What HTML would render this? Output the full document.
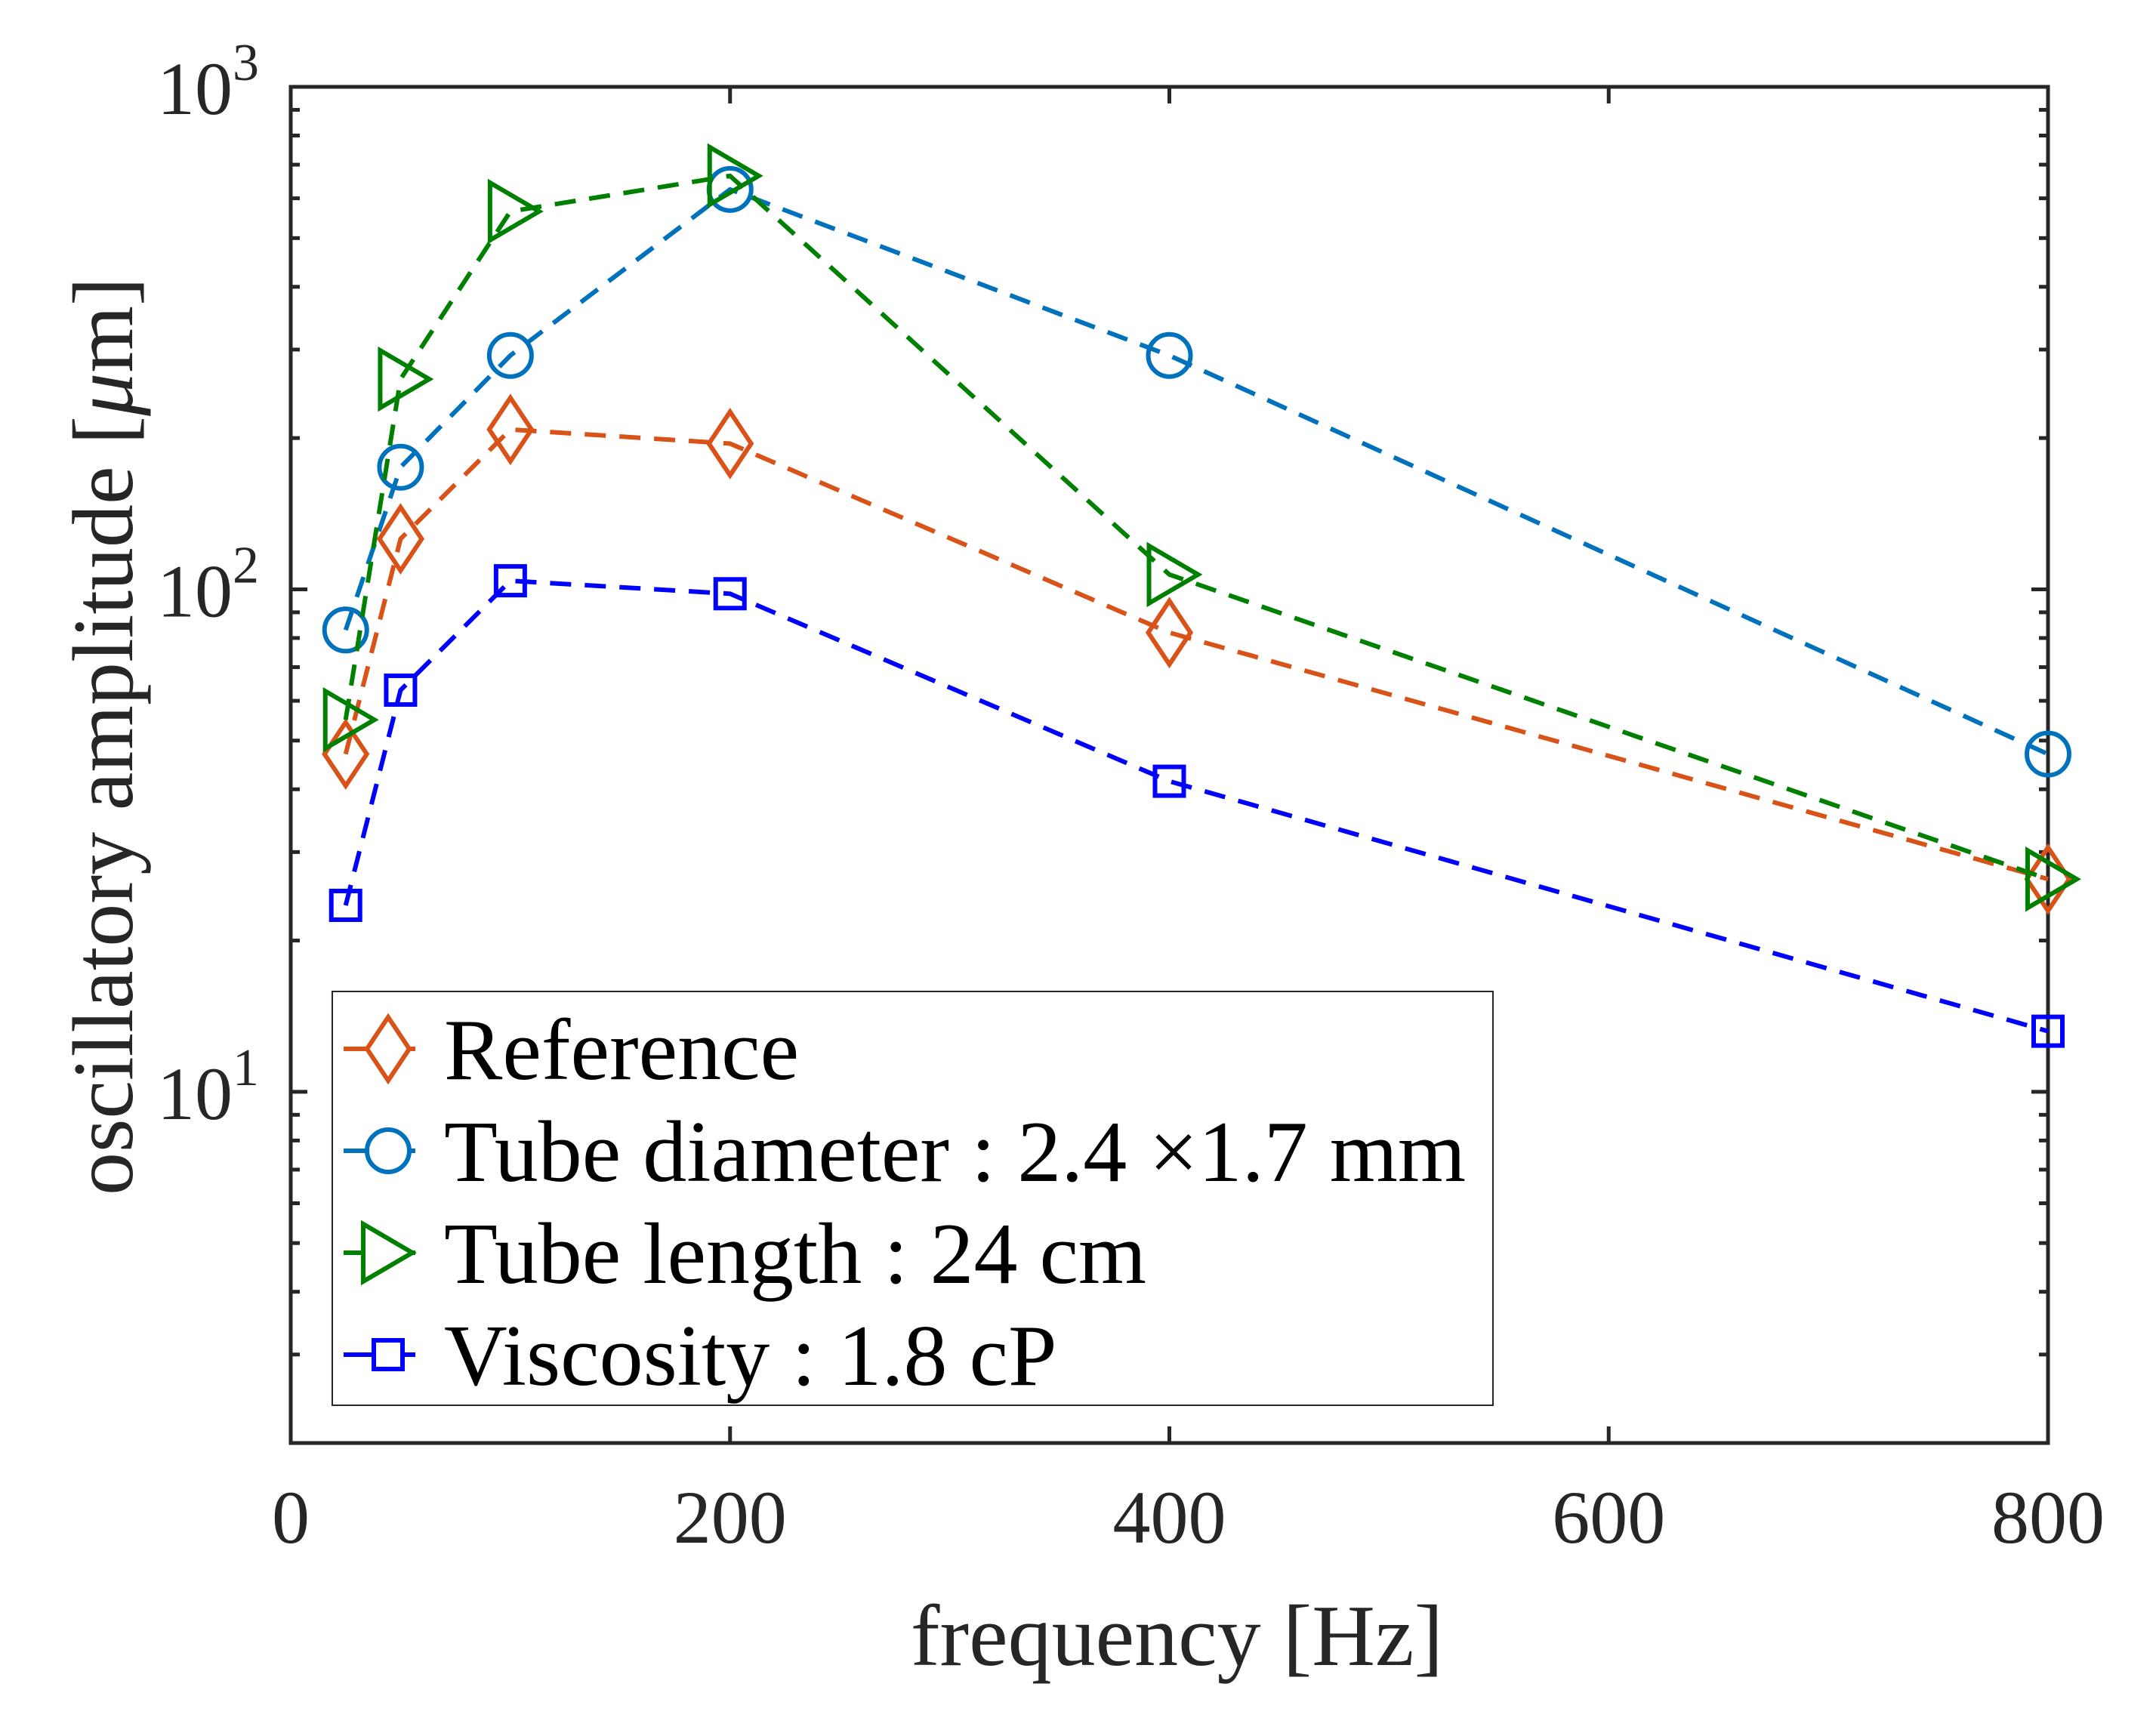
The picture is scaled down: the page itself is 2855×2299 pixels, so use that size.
<!DOCTYPE html>
<html><head><meta charset="utf-8"><style>
html,body{margin:0;padding:0;background:#fff;}
svg{display:block;font-family:"Liberation Serif",serif;}
</style></head><body>
<svg id="chart" width="2855" height="2299" viewBox="0 0 2855 2299" xmlns="http://www.w3.org/2000/svg">
<rect width="2855" height="2299" fill="#fff"/>
<g id="plot"></g>
</svg>
<script>
const xValues = [25, 50, 100, 200, 400, 800];
const refValues = [47, 126, 208, 195, 82, 26.5];
const diamValues = [83, 175, 292, 625, 292, 47];
const lengthValues = [55, 262, 565, 665, 107, 26.5];
const viscValues = [23.5, 63, 104, 98, 41.5, 13.2];
const xTicks = [0, 200, 400, 600, 800];
const yDecades = [1, 2, 3];
const seriesNames = ["Reference", "Tube diameter : 2.4 \u00d71.7 mm", "Tube length : 24 cm", "Viscosity : 1.8 cP"];

const L=385, R=2712, T=115, B=1911;
const X0=0, X1=800, YMIN=2, YMAX=1000;
function sx(v){return L+(v-X0)/(X1-X0)*(R-L);}
function sy(v){return B-(Math.log10(v)-Math.log10(YMIN))/(Math.log10(YMAX)-Math.log10(YMIN))*(B-T);}

const NS="http://www.w3.org/2000/svg";
const g=document.getElementById('plot');
function el(tag,attrs,parent){const e=document.createElementNS(NS,tag);for(const k in attrs)e.setAttribute(k,attrs[k]);(parent||g).appendChild(e);return e;}

const ax='#262626';
const ticks=el('g',{});


xTicks.forEach(t=>{
  const x=sx(t);
  el('line',{x1:x,x2:x,y1:B,y2:B-22,stroke:ax,'stroke-width':5},ticks);
  el('line',{x1:x,x2:x,y1:T,y2:T+22,stroke:ax,'stroke-width':5},ticks);
  const tx=el('text',{x:x,y:2043,'font-size':100,'text-anchor':'middle',fill:ax},g);
  tx.textContent=String(t);
  
  
});
for(let d=0;d<=3;d++){
  for(let m=1;m<=9;m++){
    const v=m*Math.pow(10,d);
    if(v<YMIN||v>YMAX) continue;
    const y=sy(v); const len=(m===1)?22:12;
    el('line',{x1:L,x2:L+len,y1:y,y2:y,stroke:ax,'stroke-width':5},ticks);
    el('line',{x1:R,x2:R-len,y1:y,y2:y,stroke:ax,'stroke-width':5},ticks);
  }
}
yDecades.forEach(d=>{
  const y=sy(Math.pow(10,d));
  const tx=el('text',{x:343,y:y+36,'font-size':100,'text-anchor':'end',fill:ax},g);
  
  
  const a=document.createElementNS(NS,'tspan');a.textContent='10';tx.appendChild(a);
  const b=document.createElementNS(NS,'tspan');b.setAttribute('dy','-45');b.setAttribute('font-size','70');b.textContent=String(d);tx.appendChild(b);
});

const box=el('rect',{x:L,y:T,width:R-L,height:B-T,fill:'none',stroke:ax,'stroke-width':5});



const xl=el('text',{x:(L+R)/2+10,y:2205,'font-size':116,'text-anchor':'middle',fill:ax});
xl.textContent='frequency [Hz]';


const yl=el('text',{x:0,y:0,'font-size':114,'text-anchor':'middle',fill:ax,transform:'translate(175,975) rotate(-90)'});


yl.innerHTML='oscillatory amplitude [<tspan font-style="italic">\u03bc</tspan>m]';

function marker(type,x,y,color,parent){
  const s={fill:'none',stroke:color,'stroke-width':6};
  let m;
  if(type==='diamond') m=el('polygon',Object.assign({points:`${x},${y-42} ${x+28},${y} ${x},${y+42} ${x-28},${y}`},s),parent);
  else if(type==='circle') m=el('circle',Object.assign({cx:x,cy:y,r:28},s),parent);
  else if(type==='tri') m=el('polygon',Object.assign({points:`${x-27},${y-38} ${x+38},${y} ${x-27},${y+38}`},s),parent);
  else m=el('rect',Object.assign({x:x-19,y:y-19,width:38,height:38},s),parent);
  return m;
}
const series=[
  {vals:refValues,color:'#D95319',m:'diamond',name:'series-reference'},
  {vals:diamValues,color:'#0072BD',m:'circle',name:'series-tube-diameter'},
  {vals:lengthValues,color:'#008000',m:'tri',name:'series-tube-length'},
  {vals:viscValues,color:'#0000FF',m:'square',name:'series-viscosity'}
];
series.forEach(s=>{
  const sg=el('g',{});
  
  
  const pts=xValues.map((x,i)=>sx(x)+','+sy(s.vals[i])).join(' ');
  const pl=el('polyline',{points:pts,fill:'none',stroke:s.color,'stroke-width':6,'stroke-dasharray':'28 18'},sg);
  
  
  xValues.forEach((x,i)=>{
    const mk=marker(s.m,sx(x),sy(s.vals[i]),s.color,sg);
    
    
  });
});

const lg=el('g',{});


el('rect',{x:440,y:1313,width:1537,height:548,fill:'#fff',stroke:'#262626','stroke-width':2},lg);
const ly=[1389,1524,1659,1794];
series.forEach((s,i)=>{
  const eg=el('g',{},lg);
  
  
  el('line',{x1:455,x2:550,y1:ly[i],y2:ly[i],stroke:s.color,'stroke-width':6},eg);
  const mk=marker(s.m,s.m==='tri'?508:514,ly[i],s.color,eg);
  mk.setAttribute('fill','#fff');
  const t=el('text',{x:588,y:ly[i]+40,'font-size':116,fill:'#000'},eg);
  t.textContent=seriesNames[i];
});
</script>
</body></html>
